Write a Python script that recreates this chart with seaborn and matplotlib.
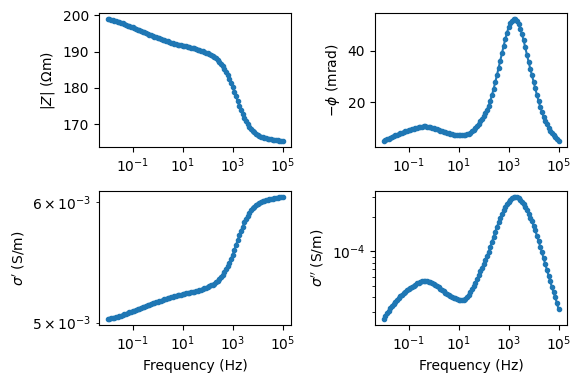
import numpy as np
import matplotlib
matplotlib.use("Agg")
import matplotlib.pyplot as plt
import seaborn as sns

# Measurement frequencies (Hz), 15 per decade from 1e-2 to 1e5
freq = [
    1.000e-2, 1.166e-2, 1.359e-2, 1.585e-2, 1.848e-2, 2.154e-2, 2.512e-2, 2.929e-2,
    3.415e-2, 3.981e-2, 4.642e-2, 5.412e-2, 6.310e-2, 7.356e-2, 8.577e-2,
    1.000e-1, 1.166e-1, 1.359e-1, 1.585e-1, 1.848e-1, 2.154e-1, 2.512e-1, 2.929e-1,
    3.415e-1, 3.981e-1, 4.642e-1, 5.412e-1, 6.310e-1, 7.356e-1, 8.577e-1,
    1.000e0, 1.166e0, 1.359e0, 1.585e0, 1.848e0, 2.154e0, 2.512e0, 2.929e0,
    3.415e0, 3.981e0, 4.642e0, 5.412e0, 6.310e0, 7.356e0, 8.577e0,
    1.000e1, 1.166e1, 1.359e1, 1.585e1, 1.848e1, 2.154e1, 2.512e1, 2.929e1,
    3.415e1, 3.981e1, 4.642e1, 5.412e1, 6.310e1, 7.356e1, 8.577e1,
    1.000e2, 1.166e2, 1.359e2, 1.585e2, 1.848e2, 2.154e2, 2.512e2, 2.929e2,
    3.415e2, 3.981e2, 4.642e2, 5.412e2, 6.310e2, 7.356e2, 8.577e2,
    1.000e3, 1.166e3, 1.359e3, 1.585e3, 1.848e3, 2.154e3, 2.512e3, 2.929e3,
    3.415e3, 3.981e3, 4.642e3, 5.412e3, 6.310e3, 7.356e3, 8.577e3,
    1.000e4, 1.166e4, 1.359e4, 1.585e4, 1.848e4, 2.154e4, 2.512e4, 2.929e4,
    3.415e4, 3.981e4, 4.642e4, 5.412e4, 6.310e4, 7.356e4, 8.577e4,
    1.000e5,
]

# Impedance amplitude |Z| (Ohm m)
z_abs = [
    198.9, 198.8, 198.7, 198.6, 198.5, 198.35, 198.2, 198.05, 197.9, 197.7,
    197.5, 197.3, 197.1, 196.9, 196.75,
    196.6, 196.4, 196.2, 196.0, 195.85, 195.65, 195.45, 195.25, 195.05, 194.85,
    194.65, 194.45, 194.3, 194.1, 193.95,
    193.8, 193.6, 193.45, 193.3, 193.1, 192.95, 192.8, 192.6, 192.45, 192.3,
    192.15, 192.0, 191.9, 191.8, 191.7,
    191.6, 191.5, 191.4, 191.3, 191.2, 191.1, 191.0, 190.85, 190.7, 190.55,
    190.4, 190.25, 190.1, 189.9, 189.7,
    189.5, 189.3, 189.05, 188.8, 188.5, 188.1, 187.7, 187.2, 186.6, 186.0,
    185.2, 184.4, 183.5, 182.5, 181.4,
    180.3, 179.0, 177.7, 176.4, 175.1, 173.9, 172.8, 171.7, 170.8, 170.0,
    169.3, 168.7, 168.2, 167.8, 167.4,
    167.1, 166.85, 166.65, 166.5, 166.35, 166.2, 166.1, 166.0, 165.9, 165.8,
    165.75, 165.7, 165.6, 165.55, 165.5,
    165.45,
]

# Negative phase -phi (mrad)
phase = [
    5.15, 5.45, 5.75, 6.05, 6.35, 6.65, 6.95, 7.25, 7.5, 7.8,
    8.05, 8.3, 8.55, 8.8, 9.05,
    9.3, 9.5, 9.7, 9.9, 10.1, 10.3, 10.45, 10.6, 10.7, 10.75,
    10.75, 10.7, 10.6, 10.45, 10.3,
    10.1, 9.9, 9.65, 9.4, 9.15, 8.9, 8.65, 8.45, 8.25, 8.05,
    7.9, 7.75, 7.6, 7.5, 7.4,
    7.3, 7.25, 7.25, 7.3, 7.45, 7.7, 8.0, 8.4, 8.9, 9.5,
    10.2, 10.9, 11.8, 12.8, 13.7,
    14.7, 15.9, 17.2, 18.8, 20.7, 22.8, 25.2, 27.8, 30.5, 33.3,
    36.1, 38.9, 41.7, 44.4, 46.8,
    48.9, 50.5, 51.5, 52.1, 52.0, 51.3, 50.1, 48.4, 46.3, 44.0,
    41.2, 38.4, 35.7, 33.0, 30.5,
    28.0, 25.4, 22.9, 20.5, 18.3, 16.3, 14.5, 12.9, 11.5, 10.2,
    9.1, 8.1, 7.3, 6.6, 5.9,
    5.2,
]

assert len(freq) == len(z_abs) == len(phase)

# Complex conductivity derived from the impedance readings
f_arr = np.array(freq)
z_arr = np.array(z_abs)
ph_arr = np.array(phase) / 1000.0
sigma_real = np.cos(ph_arr) / z_arr
sigma_imag = np.sin(ph_arr) / z_arr

color = "#1f77b4"

fig, axes = plt.subplots(2, 2, figsize=(5.81, 3.83), dpi=100)
fig.subplots_adjust(left=0.1704, right=0.9764, top=0.966, bottom=0.1514,
                    wspace=0.435, hspace=0.328)

panels = [
    (axes[0, 0], z_arr, r"$|Z|$ ($\Omega$m)", False),
    (axes[0, 1], np.array(phase), r"$-\phi$ (mrad)", False),
    (axes[1, 0], sigma_real, r"$\sigma'$ (S/m)", True),
    (axes[1, 1], sigma_imag, r"$\sigma''$ (S/m)", True),
]

for ax, yvals, ylabel, ylog in panels:
    sns.lineplot(x=f_arr, y=yvals, ax=ax, color=color, marker=".",
                 markersize=6, markeredgecolor=color, markeredgewidth=1.0,
                 linewidth=1.5, sort=False, estimator=None)
    ax.set_xscale("log")
    if ylog:
        ax.set_yscale("log")
    ax.set_ylabel(ylabel)
    ax.set_xlabel("")
    ax.set_xticks([1e-1, 1e1, 1e3, 1e5])

axes[1, 0].set_xlabel("Frequency (Hz)")
axes[1, 1].set_xlabel("Frequency (Hz)")

fig.savefig("out.png", dpi=100)
